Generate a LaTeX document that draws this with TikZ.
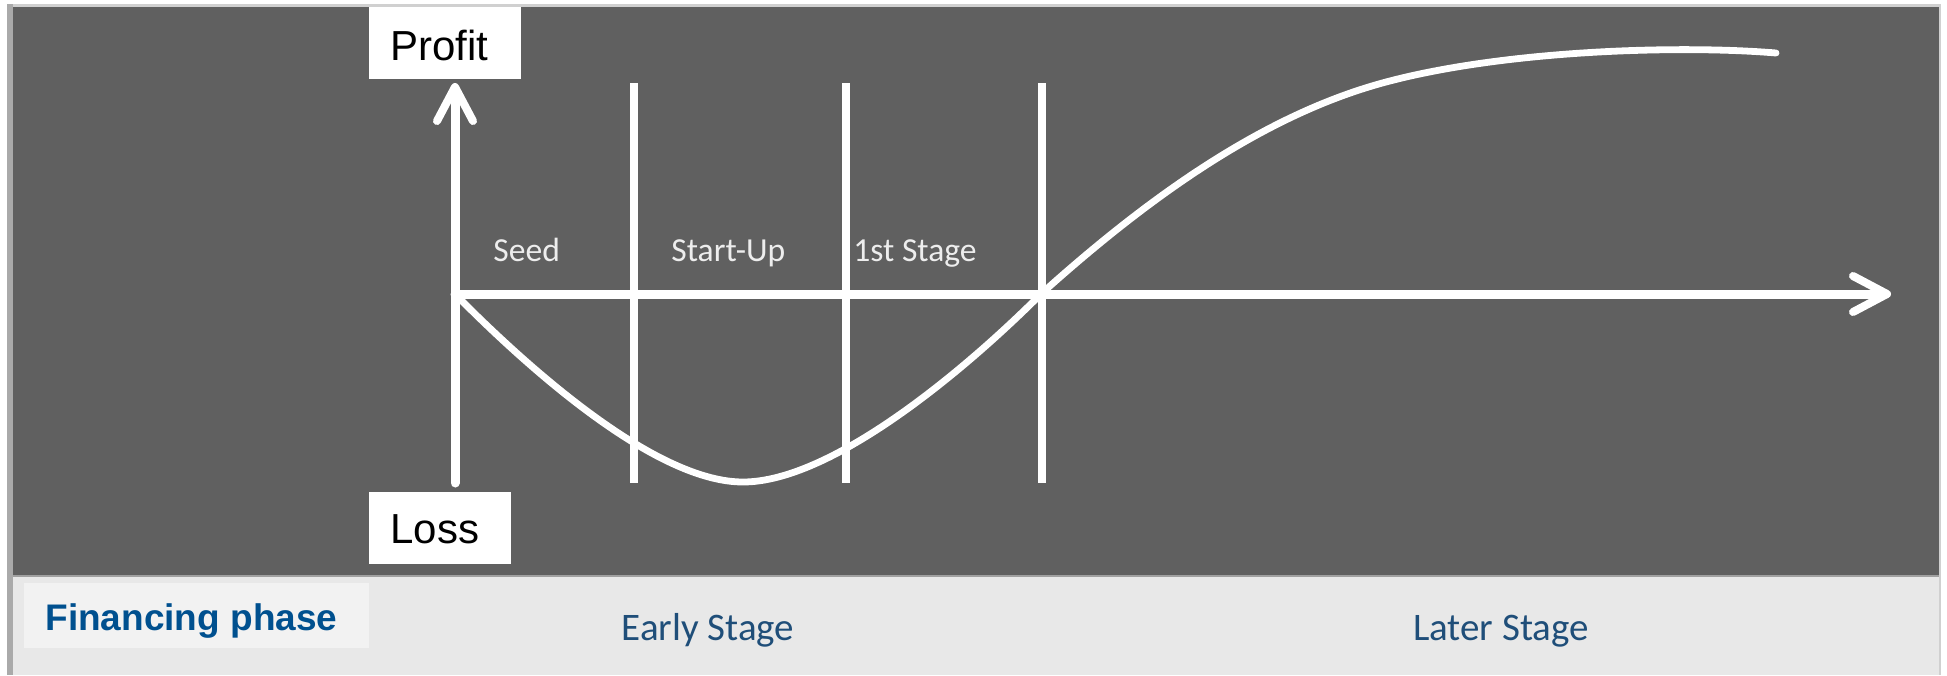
\documentclass[tikz,border=0pt]{standalone}
\usepackage{fontspec}
\setmainfont{Liberation Sans}
\newfontfamily\calib{Carlito}
\usetikzlibrary{arrows.meta}
\definecolor{panel}{HTML}{606060}
\definecolor{lightpanel}{HTML}{E8E8E8}
\definecolor{finbox}{HTML}{F2F2F2}
\definecolor{finblue}{HTML}{00508F}
\definecolor{stageblue}{HTML}{1F4E79}
\definecolor{stagetext}{HTML}{EDEDED}
\tikzset{
  axisline/.style={draw=white, line width=4.5pt, line cap=round},
  sepline/.style={draw=white, line width=3.6pt},
  curveline/.style={draw=white, line width=3.4pt, line cap=round},
  barb/.style={-{Straight Barb[length=17pt, width=18pt, line width=4pt, round]}},
  axlabel/.style={inner sep=0pt, anchor=base west, font=\fontsize{21}{25}\selectfont, text=black},
  stagelabel/.style={inner sep=0pt, anchor=base west, font=\calib\fontsize{16.8}{20}\selectfont, text=stagetext},
  phaselabel/.style={inner sep=0pt, anchor=base, font=\calib\fontsize{19.5}{23}\selectfont, text=stageblue}
}
\begin{document}
\begin{tikzpicture}[x=0.5pt, y=-0.5pt]
\useasboundingbox (0,0) rectangle (1947,675);
\fill[white] (0,0) rectangle (1947,675);
% frame and panels
\fill[fill={rgb,255:red,208;green,208;blue,208}] (7,4) rectangle (1941,675);
\fill[fill={rgb,255:red,170;green,170;blue,170}] (7,4) rectangle (13,675);
\fill[panel] (13,7) rectangle (1939,575);
\fill[fill={rgb,255:red,160;green,160;blue,160}] (13,575) rectangle (1939,577);
\fill[lightpanel] (13,577) rectangle (1939,675);
\fill[finbox] (24,583) rectangle (369,648);
% label boxes
\fill[white] (369,7) rectangle (521,79);
\fill[white] (369,492) rectangle (511,564);
\node[axlabel] (profit) at (390,60) {Profit};
\node[axlabel] (loss) at (390,543) {Loss};
% coordinates
\coordinate (o) at (455,294);
\coordinate (ybot) at (455,483);
\coordinate (ytop) at (455,83);
\coordinate (xend) at (1891,294);
\coordinate (cmin) at (743,482);
\coordinate (cross) at (1041,294);
\coordinate (cmid) at (1386,82);
\coordinate (cend) at (1776,53);
\foreach \n/\x in {a/634, b/846, c/1042} {
  \coordinate (\n top) at (\x,83);
  \coordinate (\n bot) at (\x,483);
}
% separators
\draw[sepline] (atop) -- (abot);
\draw[sepline] (btop) -- (bbot);
\draw[sepline] (ctop) -- (cbot);
% axes
\draw[axisline, barb] (ybot) -- (ytop);
\draw[axisline, barb] (o) -- (xend);
% curve
\draw[curveline] (o) .. controls (540,380) and (660,482) .. (cmin)
  .. controls (830,482) and (961,374) .. (cross)
  .. controls (1151,195) and (1266,114) .. (cmid)
  .. controls (1506,50) and (1680,45) .. (cend);
% stage labels
\node[stagelabel] (seed) at (493,261) {Seed};
\node[stagelabel] (startup) at (671,261) {Start-Up};
\node[stagelabel] (first) at (853,261) {1st Stage};
% bottom strip
\node[inner sep=0pt, anchor=base west, font=\bfseries\fontsize{18.5}{22}\selectfont, text=finblue] (fin) at (45,630) {Financing phase};
\node[phaselabel] (early) at (708,640) {Early Stage};
\node[phaselabel] (later) at (1501,640) {Later Stage};
\end{tikzpicture}
\end{document}
